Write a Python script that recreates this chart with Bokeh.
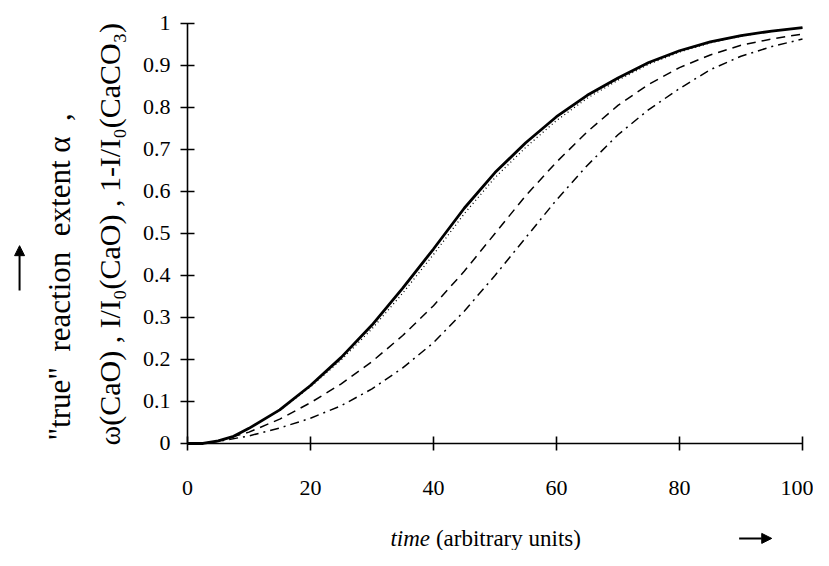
import math
from bokeh.plotting import figure
from bokeh.models import Range1d, Label, Arrow, NormalHead, FixedTicker
from bokeh.embed import file_html
from bokeh.resources import INLINE

# ---- data ----
t_true = [0, 2.5, 5, 7.5, 10, 15, 20, 25, 30, 35, 40, 45, 50, 55, 60, 65, 70, 75, 80, 85, 90, 95, 100]
a_true = [0, 0.0, 0.006, 0.017, 0.036, 0.08, 0.138, 0.205, 0.282, 0.37, 0.463, 0.56, 0.645, 0.716, 0.778, 0.829, 0.87, 0.907, 0.935, 0.956, 0.971, 0.982, 0.99]

t_omega = [0, 2.5, 5, 7.5, 10, 15, 20, 25, 30, 35, 40, 45, 50, 55, 60, 65, 70, 75, 80, 85, 90, 95, 100]
a_omega = [0, 0.0, 0.006, 0.017, 0.036, 0.079, 0.135, 0.199, 0.273, 0.358, 0.45, 0.547, 0.633, 0.705, 0.769, 0.822, 0.865, 0.903, 0.932, 0.954, 0.97, 0.982, 0.99]

t_cao = [0, 2.5, 5, 10, 15, 20, 25, 30, 35, 40, 45, 50, 55, 60, 65, 70, 75, 80, 85, 90, 95, 100]
a_cao = [0, 0.0, 0.006, 0.027, 0.058, 0.097, 0.142, 0.195, 0.257, 0.328, 0.41, 0.5, 0.59, 0.67, 0.742, 0.805, 0.855, 0.895, 0.925, 0.948, 0.963, 0.975]

t_caco3 = [0, 2.5, 5, 10, 15, 20, 25, 30, 35, 40, 45, 50, 55, 60, 65, 70, 75, 80, 85, 90, 95, 100]
a_caco3 = [0, 0.0, 0.005, 0.018, 0.037, 0.06, 0.09, 0.13, 0.18, 0.24, 0.315, 0.4, 0.49, 0.58, 0.662, 0.735, 0.795, 0.845, 0.89, 0.922, 0.945, 0.963]

x_ticks = [0, 20, 40, 60, 80, 100]
y_ticks = [0, 0.1, 0.2, 0.3, 0.4, 0.5, 0.6, 0.7, 0.8, 0.9, 1]
y_tick_labels = ["0", "0.1", "0.2", "0.3", "0.4", "0.5", "0.6", "0.7", "0.8", "0.9", "1"]

FONT = "Liberation Serif"
NB = "\u00a0"

p = figure(width=813, height=550, output_backend="svg", toolbar_location=None,
           x_range=Range1d(-30.4, 101.79), y_range=Range1d(-0.2548, 1.0547),
           min_border=0)
p.outline_line_color = None
p.grid.visible = False
p.background_fill_color = "white"
p.border_fill_color = "white"

for ax in (p.xaxis, p.yaxis):
    ax.fixed_location = 0
    ax.axis_line_color = "black"
    ax.axis_line_width = 1.6
    ax.major_tick_line_color = "black"
    ax.major_tick_line_width = 1.6
    ax.major_tick_in = 7
    ax.major_tick_out = 7
    ax.minor_tick_line_color = None
    ax.major_label_text_font = FONT
    ax.major_label_text_font_size = "22px"
    ax.major_label_text_color = "black"

p.xaxis.bounds = (0, 100)
p.yaxis.bounds = (0, 1)
p.xaxis.ticker = FixedTicker(ticks=x_ticks)
p.yaxis.ticker = FixedTicker(ticks=y_ticks)
p.yaxis.major_label_overrides = {tk: lb for tk, lb in zip(y_ticks, y_tick_labels)}
p.xaxis.major_label_standoff = 31
p.yaxis.major_label_standoff = 10

# curves
p.line(t_true, a_true, line_color="black", line_width=2.8)
p.line(t_omega, a_omega, line_color="black", line_width=1.3, line_dash="1 3")
p.line(t_cao, a_cao, line_color="black", line_width=1.5, line_dash="9 6")
p.line(t_caco3, a_caco3, line_color="black", line_width=1.5, line_dash="9 5 2 5")

# y-axis titles (two rotated lines, anchored at their lower end)
title1 = '"true"' + NB * 2 + "reaction" + NB * 2 + "extent" + NB + "α" + NB * 2 + ","
title2 = "ω(CaO)" + NB + "," + NB + "I/I₀(CaO)" + NB + "," + NB + "1-I/I₀(CaCO₃)"
p.add_layout(Label(x=-20.8, y=0.007, text=title1, angle=math.pi / 2,
                   text_align="left", text_baseline="middle", text_font=FONT,
                   text_font_size="31px", text_color="black"))
p.add_layout(Label(x=-12.7, y=-0.005, text=title2, angle=math.pi / 2,
                   text_align="left", text_baseline="middle", text_font=FONT,
                   text_font_size="30px", text_color="black"))
p.add_layout(Arrow(x_start=-27.3, y_start=0.364, x_end=-27.3, y_end=0.471, line_width=2,
                   end=NormalHead(size=10, fill_color="black", line_color="black")))

# x-axis title
p.add_layout(Label(x=33.0, y=-0.226, text="time", text_font_style="italic",
                   text_align="left", text_baseline="middle", text_font=FONT,
                   text_font_size="23px", text_color="black"))
p.add_layout(Label(x=40.4, y=-0.226, text="(arbitrary units)",
                   text_align="left", text_baseline="middle", text_font=FONT,
                   text_font_size="23px", text_color="black"))
p.add_layout(Arrow(x_start=89.7, y_start=-0.226, x_end=95.0, y_end=-0.226, line_width=2,
                   end=NormalHead(size=10, fill_color="black", line_color="black")))

open("out.html", "w").write(file_html(p, INLINE))
